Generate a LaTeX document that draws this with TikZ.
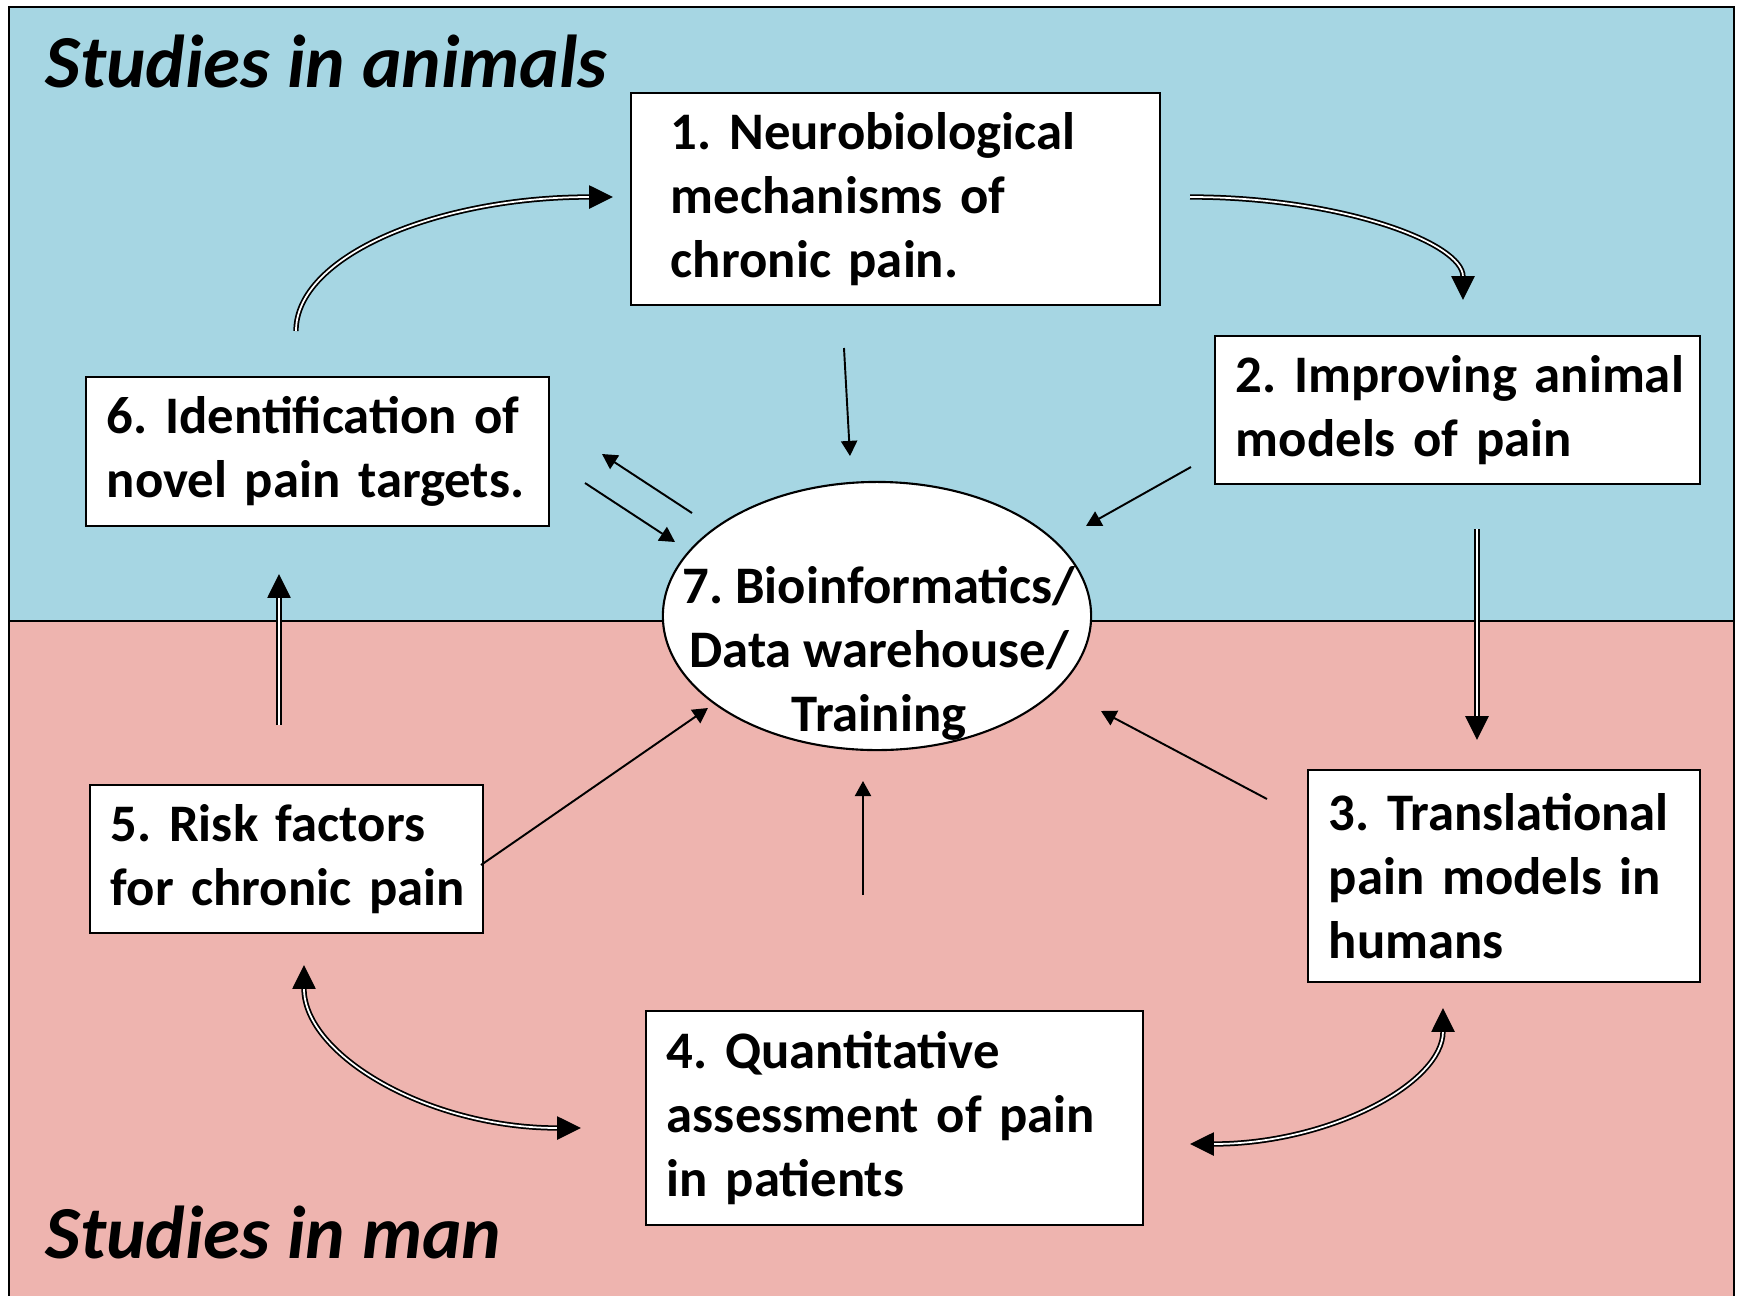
\documentclass[tikz,border=0pt]{standalone}
\usepackage{fontspec}
\setmainfont{Carlito}
\usetikzlibrary{arrows.meta,shapes.geometric}
\hyphenpenalty=10000
\definecolor{animalblue}{RGB}{166,214,227}
\definecolor{manpink}{RGB}{238,180,175}
\tikzset{
  box/.style={draw,line width=0.6pt,fill=white,align=left,inner ysep=0pt,inner xsep=0.21cm,
    font=\fontsize{15}{18.2}\selectfont\bfseries\frenchspacing},
  region title/.style={anchor=base west,inner sep=0pt,font=\fontsize{21.3}{26}\selectfont\bfseries\itshape},
  fat/.style={double,line width=0.5pt,double distance=0.5pt,>={Triangle[length=6.8pt,width=6.6pt]}},
  slim/.style={line width=0.55pt,>={Triangle[length=4.3pt,width=4.6pt]}}
}
\begin{document}
\begin{tikzpicture}[x=0.01cm,y=-0.01cm]
\useasboundingbox (0,0) rectangle (1741,1296);
\fill [animalblue] (9,7) rectangle (1734,621);
\fill [manpink] (9,621) rectangle (1734,1296);
\draw [line width=0.6pt] (9,1296) -- (9,7) -- (1734,7) -- (1734,1296)
      (9,621) -- (1734,621);
\node [region title] (animals) at (45,87) {Studies in animals};
\node [region title] (man) at (45,1258) {Studies in man};
% the six boxes
\node [box,inner xsep=0.4cm,text width=4.49cm,minimum height=2.12cm] (mech) at (895.5,199)
  {1. Neurobiological\\mechanisms of\\chronic pain.};
\node [box,text width=4.43cm,minimum height=1.48cm] (models) at (1457.5,410)
  {2.~Improving~animal\\models of pain};
\node [box,text width=3.50cm,minimum height=2.12cm] (transl) at (1504,876)
  {3. Translational\\pain models in\\humans};
\node [box,text width=4.55cm,minimum height=2.14cm] (quant) at (894.5,1118)
  {4. Quantitative\\assessment of pain\\in patients};
\node [box,text width=3.51cm,minimum height=1.48cm] (risk) at (286.5,859)
  {5.~Risk~factors\\for~chronic~pain};
\node [box,text width=4.21cm,minimum height=1.49cm] (targets) at (317.5,451.5)
  {6.~Identification~of\\novel pain targets.};
\node [ellipse,draw,fill=white,line width=0.6pt,inner sep=0pt,
       minimum width=4.28cm,minimum height=2.68cm] (bio) at (877,616) {};
\node [align=center,inner sep=0pt,font=\fontsize{15}{18.2}\selectfont\bfseries\frenchspacing] (biotext)
  at (879,653) {7. Bioinformatics/\\Data warehouse/\\Training};
% loose ends of the arrows
\coordinate (a61) at (296,331);  \coordinate (b61) at (613,197);
\coordinate (a12) at (1190,197); \coordinate (b12) at (1463,300);
\coordinate (a23) at (1477,529); \coordinate (b23) at (1477,740);
\coordinate (a56) at (279,725);  \coordinate (b56) at (279,574);
\coordinate (a54) at (304,965);  \coordinate (b54) at (581,1128);
\coordinate (a34) at (1190,1144); \coordinate (b34) at (1443,1008);
\draw [fat,->] (a61) .. controls +(0,-75) and +(-176,0) .. (b61);
\draw [fat,->] (a12) .. controls +(151,0) and +(0,-57) .. (b12);
\draw [fat,->] (a23) -- (b23);
\draw [fat,->] (a56) -- (b56);
\draw [fat,<->] (a54) .. controls +(0,90) and +(-153,0) .. (b54);
\draw [fat,<->] (a34) .. controls +(140,0) and +(0,75) .. (b34);
% into and out of the data warehouse
\coordinate (m1) at (844,348);  \coordinate (m2) at (850,456);
\coordinate (p1) at (1191,467); \coordinate (p2) at (1086,526);
\coordinate (t1) at (692,513);  \coordinate (t2) at (602,454);
\coordinate (u1) at (585,483);  \coordinate (u2) at (675,542);
\coordinate (r1) at (481,865);  \coordinate (r2) at (708,708);
\coordinate (q1) at (863,895);  \coordinate (q2) at (863,781);
\coordinate (h1) at (1267,799); \coordinate (h2) at (1101,711);
\foreach \s/\e in {m1/m2,p1/p2,t1/t2,u1/u2,r1/r2,q1/q2,h1/h2}
  \draw [slim,->] (\s) -- (\e);
\end{tikzpicture}
\end{document}
